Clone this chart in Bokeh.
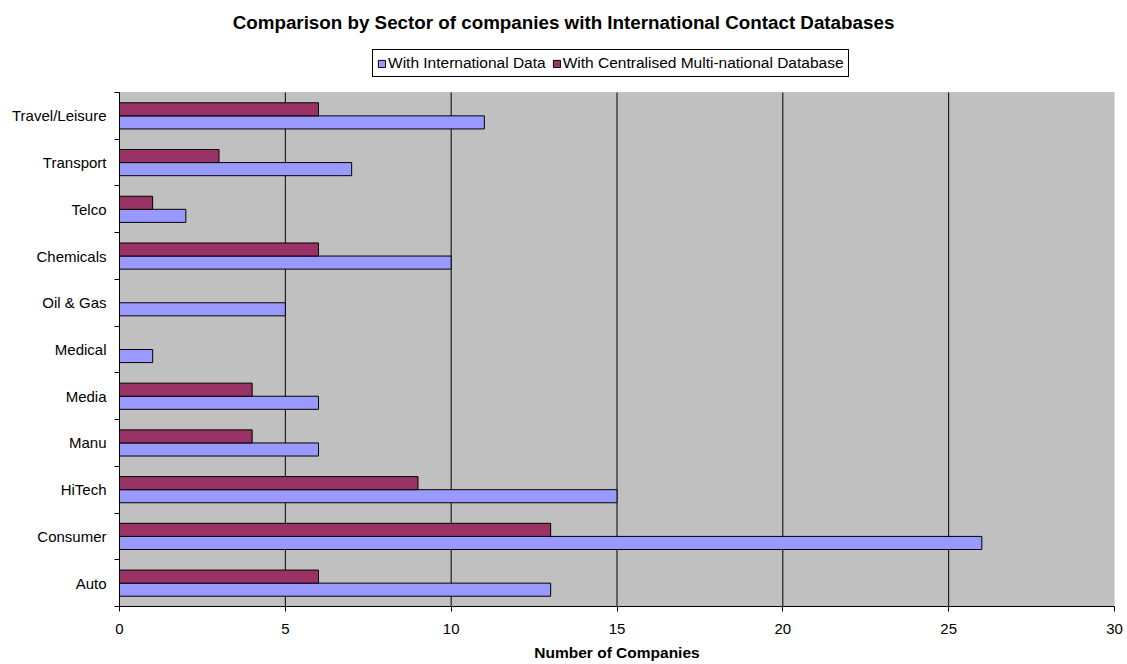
import numpy as np
from bokeh.plotting import figure
from bokeh.models import (ColumnDataSource, FixedTicker, Range1d, Legend, LegendItem,
                          Label, BoxAnnotation)
from bokeh.embed import file_html
from bokeh.resources import INLINE

categories = ["Auto", "Consumer", "HiTech", "Manu", "Media", "Medical",
              "Oil & Gas", "Chemicals", "Telco", "Transport", "Travel/Leisure"]
intl_values = [13, 26, 15, 6, 6, 1, 5, 10, 2, 7, 11]
central_values = [6, 13, 9, 4, 4, 0, 0, 6, 1, 3, 6]
x_ticks = [0, 5, 10, 15, 20, 25, 30]
title_text = "Comparison by Sector of companies with International Contact Databases"

FONT = "Liberation Sans"
n = len(categories)
pos = np.arange(n) + 0.5
bar_h = 0.28

# layout (pixels)
W, H = 1127, 664
left, right, top, bottom = 119, 13, 0, 58
plot_area_top = 92
frame_h = H - top - bottom
plot_area_h = frame_h - (plot_area_top - top)
y_top = n * frame_h / plot_area_h

src_i = ColumnDataSource(dict(y=pos - bar_h / 2, right=intl_values))
src_c = ColumnDataSource(dict(y=pos + bar_h / 2, right=central_values))

p = figure(width=W, height=H, output_backend="svg", toolbar_location=None,
           x_range=Range1d(x_ticks[0], x_ticks[-1]), y_range=Range1d(0, y_top),
           min_border_left=left, min_border_right=right, min_border_top=top,
           min_border_bottom=bottom)
p.background_fill_color = "white"
p.border_fill_color = "white"
p.outline_line_color = None

# gray plot area
p.add_layout(BoxAnnotation(left=x_ticks[0], right=x_ticks[-1], bottom=0, top=n,
                           fill_color="#C0C0C0", fill_alpha=1,
                           line_color="#808080", line_width=1, level="underlay"))

# vertical gridlines
gx = x_ticks[1:-1]
p.segment(x0=gx, y0=[0] * len(gx), x1=gx, y1=[n] * len(gx),
          line_color="black", line_width=1)

r_i = p.hbar(y="y", right="right", left=0, height=bar_h, source=src_i,
             fill_color="#9999FF", line_color="black", line_width=1)
r_c = p.hbar(y="y", right="right", left=0, height=bar_h, source=src_c,
             fill_color="#993366", line_color="black", line_width=1)

# x axis
p.xaxis.ticker = FixedTicker(ticks=x_ticks)
p.xaxis.axis_label = "Number of Companies"
p.xaxis.axis_label_text_font = FONT
p.xaxis.axis_label_text_font_style = "bold"
p.xaxis.axis_label_text_font_size = "15.5px"
p.xaxis.axis_label_text_color = "black"
p.xaxis.axis_label_standoff = 7
p.xaxis.major_label_text_font = FONT
p.xaxis.major_label_text_font_size = "15px"
p.xaxis.major_label_text_color = "black"
p.xaxis.major_label_standoff = 12
p.xaxis.major_tick_out = 5
p.xaxis.major_tick_in = 0
p.xaxis.minor_tick_line_color = None
p.xaxis.axis_line_color = "black"
p.xaxis.major_tick_line_color = "black"

# y axis: labels at category centers, ticks at boundaries
p.yaxis.bounds = (0, n)
p.yaxis.ticker = FixedTicker(ticks=list(pos), minor_ticks=list(range(n + 1)))
p.yaxis.major_label_overrides = {float(v): c for v, c in zip(pos, categories)}
p.yaxis.major_label_text_font = FONT
p.yaxis.major_label_text_font_size = "15px"
p.yaxis.major_label_text_color = "black"
p.yaxis.major_label_standoff = 8
p.yaxis.major_tick_line_color = None
p.yaxis.major_tick_out = 5
p.yaxis.minor_tick_out = 5
p.yaxis.minor_tick_in = 0
p.yaxis.minor_tick_line_color = "black"
p.yaxis.axis_line_color = "black"

p.xgrid.grid_line_color = None
p.ygrid.grid_line_color = None

# title (screen units relative to the frame's bottom-left corner)
p.add_layout(Label(x=563 - left, y=frame_h - 21.7, x_units="screen", y_units="screen",
                   text=title_text, text_align="center", text_baseline="alphabetic",
                   text_font=FONT, text_font_size="18.8px", text_font_style="bold",
                   text_color="black"))

legend = Legend(items=[LegendItem(label="With International Data", renderers=[r_i]),
                       LegendItem(label="With Centralised Multi-national Database", renderers=[r_c])],
                orientation="horizontal", location=(253, frame_h - 77),
                label_text_font=FONT, label_text_font_size="15.5px", label_text_color="black",
                border_line_color="black", border_line_width=1, border_line_alpha=1,
                background_fill_color="white", background_fill_alpha=1,
                padding=4, spacing=6, glyph_width=9, glyph_height=9,
                label_standoff=2, margin=0, label_height=17)
p.add_layout(legend, "center")

open("out.html", "w").write(file_html(p, INLINE))
